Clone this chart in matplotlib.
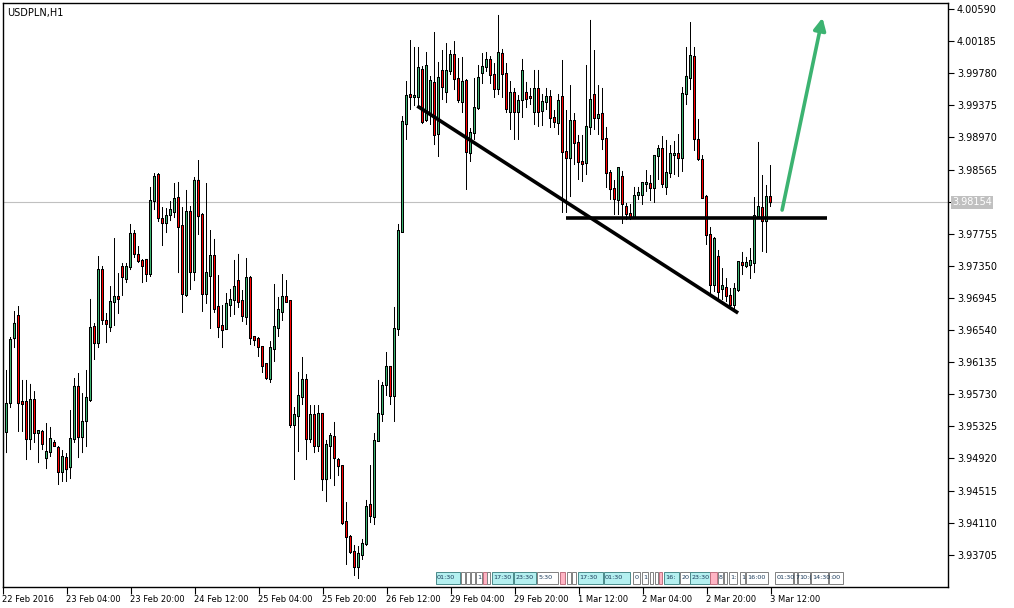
import matplotlib.pyplot as plt
import matplotlib.transforms as mtransforms
from matplotlib.patches import Rectangle
import numpy as np

# USDPLN H1 candles, 22 Feb 2016 12:00 .. 3 Mar 2016 12:00 (one bar per hour)
opens = [
    3.95153, 3.95254, 3.95619, 3.96439, 3.96717, 3.95632, 3.95632, 3.95165, 3.95657, 3.95241,
    3.95254, 3.94925, 3.95001, 3.95115, 3.95052, 3.94749, 3.94925, 3.94811, 3.95165, 3.95822,
    3.95190, 3.95392, 3.95657, 3.96578, 3.96376, 3.97297, 3.96654, 3.96578, 3.96894, 3.96957,
    3.97335, 3.97184, 3.97335, 3.97752, 3.97487, 3.97411, 3.97424, 3.97247, 3.98168, 3.98496,
    3.97940, 3.97890, 3.97991, 3.98029, 3.98206, 3.97852, 3.96982, 3.98029, 3.97272, 3.98421,
    3.97991, 3.96995, 3.97222, 3.97474, 3.96831, 3.96591, 3.96553, 3.96856, 3.96919, 3.97158,
    3.96906, 3.96705, 3.97196, 3.96452, 3.96427, 3.96326, 3.96111, 3.95922, 3.96301, 3.96566,
    3.96768, 3.96957, 3.96906, 3.95342, 3.95455, 3.95695, 3.95910, 3.95165, 3.95468, 3.95077,
    3.95481, 3.94660, 3.95077, 3.95190, 3.94900, 3.94824, 3.94118, 3.93929, 3.93740, 3.93550,
    3.93702, 3.93841, 3.94333, 3.94181, 3.95140, 3.95481, 3.95847, 3.96074, 3.95708, 3.96553,
    3.97777, 3.99139, 3.99505, 3.99480, 3.99480, 3.99821, 3.99190, 3.99278, 3.99657, 3.99013,
    3.99808, 3.99543, 3.99808, 4.00010, 3.99707, 3.99417, 3.99682, 3.98773, 3.99026, 3.99341,
    3.99783, 3.99859, 3.99947, 3.99758, 3.99581, 4.00023, 3.99770, 3.99291, 3.99531, 3.99291,
    3.99442, 3.99531, 3.99480, 3.99291, 3.99581, 3.99304, 3.99417, 3.99480, 3.99215, 3.99152,
    3.99480, 3.98786, 3.98710, 3.99177, 3.98900, 3.98660, 3.98647, 3.99102, 3.99505, 3.99215,
    3.99266, 3.98950, 3.98521, 3.98319, 3.98181, 3.98471, 3.98092, 3.98004, 3.97966, 3.98244,
    3.98244, 3.98383, 3.98383, 3.98332, 3.98736, 3.98824, 3.98345, 3.98521, 3.98748, 3.98761,
    3.98710, 3.99518, 3.99720, 3.99985, 3.98938, 3.98685, 3.98219, 3.97739, 3.97108, 3.97462,
    3.97058, 3.97070, 3.96970, 3.96856, 3.97045, 3.97386, 3.97348, 3.97360, 3.97386, 3.97978,
    3.98079, 3.97915, 3.98218,
]
highs = [
    3.95279, 3.96036, 3.96452, 3.96780, 3.96843, 3.95910, 3.95910, 3.95860, 3.95770, 3.95279,
    3.95279, 3.95367, 3.95317, 3.95153, 3.95077, 3.95026, 3.94988, 3.95531, 3.95935, 3.95998,
    3.95745, 3.96036, 3.96932, 3.96629, 3.97474, 3.97348, 3.96755, 3.97095, 3.97701, 3.97259,
    3.97386, 3.97386, 3.97878, 3.97802, 3.97600, 3.97436, 3.97436, 3.98345, 3.98521, 3.98521,
    3.98092, 3.98079, 3.98168, 3.98395, 3.98408, 3.98092, 3.98307, 3.98105, 3.98471, 3.98685,
    3.98016, 3.98395, 3.97802, 3.97689, 3.97234, 3.96856, 3.97007, 3.97058, 3.97424, 3.97500,
    3.97045, 3.97449, 3.97222, 3.96465, 3.96452, 3.96338, 3.96124, 3.96401, 3.97121, 3.96957,
    3.97247, 3.97171, 3.96919, 3.95569, 3.96011, 3.96200, 3.95985, 3.95594, 3.95594, 3.95594,
    3.95493, 3.95153, 3.95241, 3.95380, 3.94925, 3.94837, 3.94370, 3.93954, 3.93828, 3.93815,
    3.93904, 3.94396, 3.94837, 3.95241, 3.95910, 3.95885, 3.96263, 3.96086, 3.96831, 3.97878,
    3.99240, 3.99682, 4.00199, 4.00111, 4.00111, 3.99871, 4.00048, 3.99745, 4.00300, 3.99922,
    4.00073, 4.00161, 4.00073, 4.00186, 3.99972, 3.99985, 3.99707, 3.99089, 3.99720, 3.99884,
    4.00035, 4.00048, 3.99997, 3.99909, 4.00515, 4.00086, 3.99909, 3.99682, 3.99594, 3.99505,
    3.99960, 3.99670, 3.99594, 3.99821, 3.99821, 3.99518, 3.99594, 3.99568, 3.99316, 3.99518,
    3.99947, 3.99316, 3.99631, 3.99278, 3.99001, 3.99001, 3.99884, 4.00452, 4.00073, 3.99631,
    3.99594, 3.99102, 3.98559, 3.98433, 3.98597, 3.98547, 3.98143, 3.98130, 3.98345, 3.98345,
    3.98408, 3.98559, 3.98496, 3.98748, 3.98874, 3.98988, 3.98938, 3.98874, 3.98925, 3.99013,
    3.99606, 4.00111, 4.00426, 4.00111, 3.99203, 3.98748, 3.98244, 3.97840, 3.97714, 3.97550,
    3.97322, 3.97196, 3.97070, 3.97133, 3.97411, 3.97525, 3.97462, 3.97575, 3.98218, 3.98913,
    3.98496, 3.98370, 3.98622,
]
lows = [
    3.94610, 3.94988, 3.95556, 3.96313, 3.95254, 3.95254, 3.94900, 3.95026, 3.95115, 3.94862,
    3.95026, 3.94786, 3.94938, 3.95064, 3.94585, 3.94623, 3.94623, 3.94660, 3.95115, 3.94925,
    3.94988, 3.95064, 3.95632, 3.96162, 3.96313, 3.96604, 3.96376, 3.96515, 3.96591, 3.96743,
    3.96970, 3.97133, 3.97297, 3.97449, 3.97386, 3.97133, 3.97146, 3.97209, 3.98054, 3.97903,
    3.97600, 3.97764, 3.97915, 3.97953, 3.97259, 3.96755, 3.96957, 3.97045, 3.97158, 3.97739,
    3.96768, 3.96869, 3.96553, 3.96755, 3.96439, 3.96313, 3.96540, 3.96705, 3.96730, 3.96818,
    3.96642, 3.96604, 3.96351, 3.96338, 3.96200, 3.95998, 3.95910, 3.95872, 3.96137, 3.96452,
    3.96654, 3.96881, 3.95304, 3.94648, 3.95001, 3.95594, 3.94900, 3.95115, 3.94988, 3.95001,
    3.94509, 3.94370, 3.94660, 3.94572, 3.94698, 3.94080, 3.93576, 3.93715, 3.93437, 3.93399,
    3.93639, 3.93815, 3.94105, 3.94080, 3.95128, 3.95380, 3.95708, 3.95594, 3.95380, 3.96465,
    3.97764, 3.98938, 3.99316, 3.99366, 3.99354, 3.99139, 3.99165, 3.99127, 3.98874, 3.98723,
    3.99442, 3.99404, 3.99758, 3.99568, 3.99404, 3.99278, 3.98307, 3.98660, 3.98938, 3.99316,
    3.99644, 3.99796, 3.99644, 3.99468, 3.99505, 3.99468, 3.99278, 3.99064, 3.98938, 3.98938,
    3.99215, 3.99341, 3.99379, 3.99127, 3.99102, 3.99114, 3.99316, 3.99089, 3.99089, 3.99001,
    3.98017, 3.98017, 3.98218, 3.98622, 3.98433, 3.98408, 3.98496, 3.99001, 3.99064, 3.99001,
    3.98811, 3.98332, 3.98181, 3.97991, 3.97991, 3.97878, 3.97928, 3.97928, 3.97940, 3.98181,
    3.98118, 3.98282, 3.98168, 3.98143, 3.98433, 3.98332, 3.98244, 3.98458, 3.98496, 3.98471,
    3.98534, 3.99379, 3.99568, 3.98799, 3.98673, 3.98193, 3.97613, 3.96982, 3.97020, 3.96919,
    3.96919, 3.96894, 3.96831, 3.96793, 3.97020, 3.97234, 3.97322, 3.97184, 3.97259, 3.97953,
    3.97525, 3.97512, 3.98092,
]
closes = [
    3.95203, 3.95607, 3.96414, 3.96617, 3.95619, 3.95607, 3.95165, 3.95657, 3.95241, 3.95266,
    3.95103, 3.95001, 3.95165, 3.95077, 3.94749, 3.94938, 3.94786, 3.95165, 3.95822, 3.95190,
    3.95380, 3.95683, 3.96566, 3.96376, 3.97297, 3.96667, 3.96617, 3.96894, 3.96957, 3.96932,
    3.97209, 3.97335, 3.97752, 3.97500, 3.97411, 3.97348, 3.97247, 3.98168, 3.98471, 3.97953,
    3.97890, 3.97978, 3.98054, 3.98193, 3.97840, 3.96995, 3.98029, 3.97272, 3.98421, 3.97978,
    3.96995, 3.97259, 3.97474, 3.96806, 3.96578, 3.96540, 3.96869, 3.96919, 3.97083, 3.96894,
    3.96717, 3.97196, 3.96439, 3.96414, 3.96326, 3.96086, 3.95935, 3.96313, 3.96578, 3.96793,
    3.96957, 3.96894, 3.95342, 3.95468, 3.95708, 3.95910, 3.95165, 3.95468, 3.95077, 3.95481,
    3.94660, 3.95090, 3.95203, 3.94925, 3.94824, 3.94105, 3.93929, 3.93740, 3.93550, 3.93715,
    3.93841, 3.94307, 3.94194, 3.95140, 3.95481, 3.95834, 3.96074, 3.95708, 3.96553, 3.97789,
    3.99165, 3.99493, 3.99480, 3.99493, 3.99846, 3.99165, 3.99871, 3.99682, 3.99001, 3.99720,
    3.99606, 3.99808, 4.00010, 3.99707, 3.99442, 3.99670, 3.98786, 3.99026, 3.99341, 3.99720,
    3.99859, 3.99947, 3.99758, 3.99581, 4.00035, 3.99770, 3.99329, 3.99531, 3.99291, 3.99430,
    3.99808, 3.99455, 3.99468, 3.99581, 3.99291, 3.99417, 3.99480, 3.99215, 3.99165, 3.99430,
    3.98786, 3.98710, 3.99177, 3.98900, 3.98660, 3.98635, 3.99102, 3.99442, 3.99215, 3.99253,
    3.98950, 3.98521, 3.98319, 3.98193, 3.98584, 3.98130, 3.98004, 3.97966, 3.98231, 3.98269,
    3.98395, 3.98395, 3.98332, 3.98736, 3.98824, 3.98383, 3.98521, 3.98761, 3.98761, 3.98710,
    3.99518, 3.99733, 3.99997, 3.98950, 3.98698, 3.98206, 3.97739, 3.97108, 3.97689, 3.97020,
    3.97095, 3.96970, 3.96856, 3.97058, 3.97398, 3.97360, 3.97386, 3.97411, 3.97978, 3.98092,
    3.97915, 3.98218, 3.98154,
]

time_labels = ["22 Feb 2016", "23 Feb 04:00", "23 Feb 20:00", "24 Feb 12:00",
               "25 Feb 04:00", "25 Feb 20:00", "26 Feb 12:00", "29 Feb 04:00",
               "29 Feb 20:00", "1 Mar 12:00", "2 Mar 04:00", "2 Mar 20:00",
               "3 Mar 12:00"]
price_ticks = [4.00590, 4.00185, 3.99780, 3.99375, 3.98970, 3.98565, 3.98160,
               3.97755, 3.97350, 3.96945, 3.96540, 3.96135, 3.95730, 3.95325,
               3.94920, 3.94515, 3.94110, 3.93705]
last_price = 3.98154

# drawn objects (bar index, price)
trend_line = [(103.7, 3.99366), (183.9, 3.96755)]
support_line = [(140.9, 3.97953), (206.2, 3.97953)]
arrow_from = (194.9, 3.98054)
arrow_to = (205.0, 4.00480)

# calendar events along the bottom: start bar, end bar, text, kind
ev_start = [108.4, 114.7, 115.9, 117.2, 118.4, 120.2, 121.2, 122.4, 127.9, 133.7,
            139.4, 141.2, 142.4, 143.9, 150.4, 157.7, 159.9, 161.9, 163.2, 164.2,
            165.4, 169.4, 171.9, 176.9, 178.9, 180.4, 181.7, 184.4, 185.9, 193.2,
            197.9, 198.9, 202.2, 206.7]
ev_end = [114.4, 115.7, 116.9, 118.2, 119.9, 121.0, 121.9, 127.7, 133.4, 138.9,
          140.7, 142.2, 143.4, 150.2, 156.9, 159.4, 161.4, 162.7, 163.9, 164.9,
          169.2, 171.9, 176.9, 178.7, 180.2, 181.2, 183.7, 185.7, 191.4, 197.7,
          198.7, 201.9, 206.4, 210.2]
ev_text = ["01:30", "", "", "", "1", "", "", "17:30", "23:30", "5:30",
           "", "", "", "17:30", "01:30", "0", "1", "", "", "",
           "16:", "20", "23:30", "", "8", "", "1:", "1", "16:00", "01:30",
           "7", "10:(", "14:30", ":00"]
ev_kind = ["c", "w", "w", "w", "w", "p", "w", "c", "c", "w",
           "p", "w", "w", "c", "c", "w", "w", "w", "w", "p",
           "c", "w", "c", "p", "w", "w", "w", "w", "w", "w",
           "w", "w", "w", "w"]

UP = "#3cb371"
DOWN = "#ff0000"

fig = plt.figure(figsize=(10.14, 6.08), dpi=100, facecolor="white")
ax = fig.add_axes([2.5 / 1014, 21 / 608, 945.5 / 1014, 584 / 608])

o = np.array(opens)
h = np.array(highs)
l = np.array(lows)
c = np.array(closes)
x = np.arange(len(o))
up = c >= o

ylo, yhi = 3.93298, 4.00666
px = (yhi - ylo) / 584  # price per pixel, used for the 1 px body outline

ax.axhline(last_price, color="#c0c0c0", lw=0.8, zorder=1)

# wick 1 px, body 3 px black with 1 px coloured core (4 px per bar)
ax.vlines(x, l, h, color="black", lw=0.72, zorder=2, snap=False)

top = np.maximum(o, c)
bot = np.minimum(o, c)
ax.bar(x, top - bot + 2 * px, bottom=bot - px, width=0.75, color="black",
       linewidth=0, zorder=3, snap=False)
core = (top - bot) > 0.8 * px
ax.bar(x[core & up], (top - bot)[core & up], bottom=bot[core & up],
       width=0.25, color=UP, linewidth=0, zorder=4, snap=False)
ax.bar(x[core & ~up], (top - bot)[core & ~up], bottom=bot[core & ~up],
       width=0.25, color=DOWN, linewidth=0, zorder=4, snap=False)

(tx0, ty0), (tx1, ty1) = trend_line
ax.plot([tx0, tx1], [ty0, ty1], color="black", lw=2.6, zorder=5,
        solid_capstyle="butt")
(sx0, sy0), (sx1, sy1) = support_line
ax.plot([sx0, sx1], [sy0, sy1], color="black", lw=2.6, zorder=5,
        solid_capstyle="butt")
ax.annotate("", xy=arrow_to, xytext=arrow_from,
            arrowprops=dict(arrowstyle="-|>", color=UP, lw=2.6,
                            mutation_scale=18, shrinkA=0, shrinkB=0),
            zorder=6)

# calendar event boxes
trans = mtransforms.blended_transform_factory(ax.transData, ax.transAxes)
kind_face = {"c": "#b4f0f0", "w": "white", "p": "#ffb4c4"}
kind_edge = {"c": "#4a8a8a", "w": "#808080", "p": "#c07080"}
for s, e, t, k in zip(ev_start, ev_end, ev_text, ev_kind):
    box = Rectangle((s, 0.005), e - s, 0.021, transform=trans,
                    facecolor=kind_face[k], edgecolor=kind_edge[k],
                    lw=0.7, zorder=7, clip_on=False)
    ax.add_patch(box)
    if t:
        txt = ax.text(s + 0.25, 0.0155, t, transform=trans, fontsize=4.6,
                      va="center", ha="left", color="#1a3a5a", zorder=8)
        txt.set_clip_path(box)

# exactly 4 px per hourly bar
ax.set_xlim(0.0, 945.5 / 4)
ax.set_ylim(ylo, yhi)

ax.yaxis.tick_right()
ax.set_yticks(price_ticks)
labels = [f"{v:.5f}" for v in price_ticks]
labels[6] = ""
ax.set_yticklabels(labels)
ax.tick_params(axis="y", direction="out", length=4, width=0.8, pad=2.5,
               labelsize=7, colors="black")

ax.set_xticks(np.arange(len(time_labels)) * 16)
ax.set_xticklabels(time_labels, ha="left")
ax.tick_params(axis="x", direction="out", length=5, width=0.8, pad=1,
               labelsize=6.0)

for sp in ax.spines.values():
    sp.set_color("black")
    sp.set_linewidth(1.0)

ax.text(1.0 + 4 / 945.5, last_price, f"{last_price:.5f}",
        transform=mtransforms.blended_transform_factory(ax.transAxes, ax.transData),
        fontsize=7, color="white", va="center", ha="left",
        bbox=dict(boxstyle="square,pad=0.15", facecolor="#c0c0c0", edgecolor="none"))

ax.text(0.005, 0.992, "USDPLN,H1", transform=ax.transAxes, fontsize=7,
        va="top", ha="left")

fig.savefig("out.png", dpi=100, facecolor="white")
